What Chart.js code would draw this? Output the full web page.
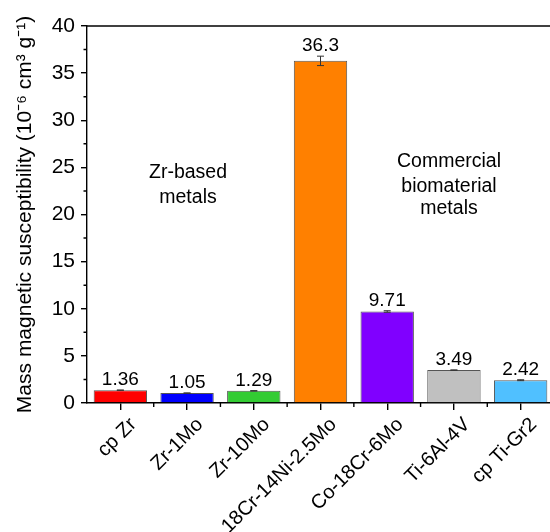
<!DOCTYPE html>
<html>
<head>
<meta charset="utf-8">
<script src="https://cdn.jsdelivr.net/npm/chart.js@4"></script>
<style>
  html, body { margin: 0; padding: 0; background: #fff; overflow: hidden; }
  #wrap { width: 560px; height: 532px; }
</style>
</head>
<body>
<div id="wrap"><canvas id="c" width="560" height="532"></canvas></div>
<script>
const categories = ['cp Zr', 'Zr-1Mo', 'Zr-10Mo', '18Cr-14Ni-2.5Mo', 'Co-18Cr-6Mo', 'Ti-6Al-4V', 'cp Ti-Gr2'];
const values = [1.36, 1.05, 1.29, 36.3, 9.71, 3.49, 2.42];
const errors = [0.02, 0.02, 0.02, 0.5, 0.08, 0.02, 0.05];
const labels = ['1.36', '1.05', '1.29', '36.3', '9.71', '3.49', '2.42'];
const colors = ['#ff0000', '#0000ff', '#33cc33', '#ff8000', '#8000ff', '#c0c0c0', '#50c0ff'];
const yTicks = [0, 5, 10, 15, 20, 25, 30, 35, 40];

const FONT = "'Liberation Sans', Arial, sans-serif";

// minor ticks, error bars, value labels, top frame line, text notes
const extras = {
  id: 'extras',
  afterDatasetsDraw(chart) {
    const { ctx, chartArea: a, scales: { x, y } } = chart;
    ctx.save();
    ctx.strokeStyle = '#000';
    ctx.lineWidth = 1.4;
    // top frame line
    ctx.beginPath();
    ctx.moveTo(a.left, a.top); ctx.lineTo(a.right + 10, a.top);
    ctx.stroke();
    // y minor ticks
    ctx.beginPath();
    for (let v = 2.5; v < 40; v += 5) {
      const py = y.getPixelForValue(v);
      ctx.moveTo(a.left - 3.5, py); ctx.lineTo(a.left, py);
    }
    // x minor ticks at category boundaries
    for (let i = 1; i < categories.length; i++) {
      const px = (x.getPixelForValue(i - 1) + x.getPixelForValue(i)) / 2;
      ctx.moveTo(px, a.bottom); ctx.lineTo(px, a.bottom + 4);
    }
    ctx.stroke();
    // error bars
    ctx.strokeStyle = '#333';
    ctx.lineWidth = 1;
    values.forEach((v, i) => {
      const px = x.getPixelForValue(i);
      const t = y.getPixelForValue(v + errors[i]);
      const b = y.getPixelForValue(v - errors[i]);
      ctx.beginPath();
      ctx.moveTo(px, t); ctx.lineTo(px, b);
      ctx.moveTo(px - 3.5, t); ctx.lineTo(px + 3.5, t);
      ctx.moveTo(px - 3.5, b); ctx.lineTo(px + 3.5, b);
      ctx.stroke();
    });
    // value labels
    ctx.fillStyle = '#000';
    ctx.font = '19px ' + FONT;
    ctx.textAlign = 'center';
    ctx.textBaseline = 'alphabetic';
    values.forEach((v, i) => {
      ctx.fillText(labels[i], x.getPixelForValue(i), y.getPixelForValue(v + errors[i]) - 5);
    });
    // notes
    ctx.font = '19.5px ' + FONT;
    ctx.fillText('Zr-based', 188, 178);
    ctx.fillText('metals', 188, 203);
    ctx.fillText('Commercial', 449, 167);
    ctx.fillText('biomaterial', 449, 192);
    ctx.fillText('metals', 449, 214);
    ctx.restore();
  }
};

new Chart(document.getElementById('c'), {
  type: 'bar',
  data: {
    labels: categories,
    datasets: [{
      data: values,
      backgroundColor: colors,
      borderColor: '#555',
      borderWidth: 1,
      barPercentage: 0.8,
      categoryPercentage: 1.0,
    }],
  },
  options: {
    responsive: false,
    animation: false,
    layout: { padding: { top: 26, right: 6, left: 0, bottom: 0 } },
    plugins: { legend: { display: false }, tooltip: { enabled: false } },
    scales: {
      x: {
        offset: true,
        afterFit: (s) => { s.height = 129; },
        grid: { display: true, drawOnChartArea: false, offset: false, tickLength: 7, color: '#000', lineWidth: 1.4 },
        border: { display: true, color: '#000', width: 1.4 },
        ticks: { color: '#000', font: { family: FONT, size: 20 }, minRotation: 45, maxRotation: 45, autoSkip: false, padding: 3, labelOffset: 13 },
      },
      y: {
        min: 0, max: 40,
        afterBuildTicks: (s) => { s.ticks = yTicks.map(v => ({ value: v })); },
        afterFit: (s) => { s.width = 87; },
        grid: { display: true, drawOnChartArea: false, tickLength: 6, color: '#000', lineWidth: 1.4 },
        border: { display: true, color: '#000', width: 1.4 },
        ticks: { color: '#000', font: { family: FONT, size: 21 }, padding: 6 },
        title: {
          display: true,
          text: 'Mass magnetic susceptibility (10\u207B\u2076 cm\u00B3 g\u207B\u00B9)',
          color: '#000',
          font: { family: FONT, size: 21 },
          padding: { top: 13, bottom: 0 },
        },
      },
    },
  },
  plugins: [extras],
});
</script>
</body>
</html>
